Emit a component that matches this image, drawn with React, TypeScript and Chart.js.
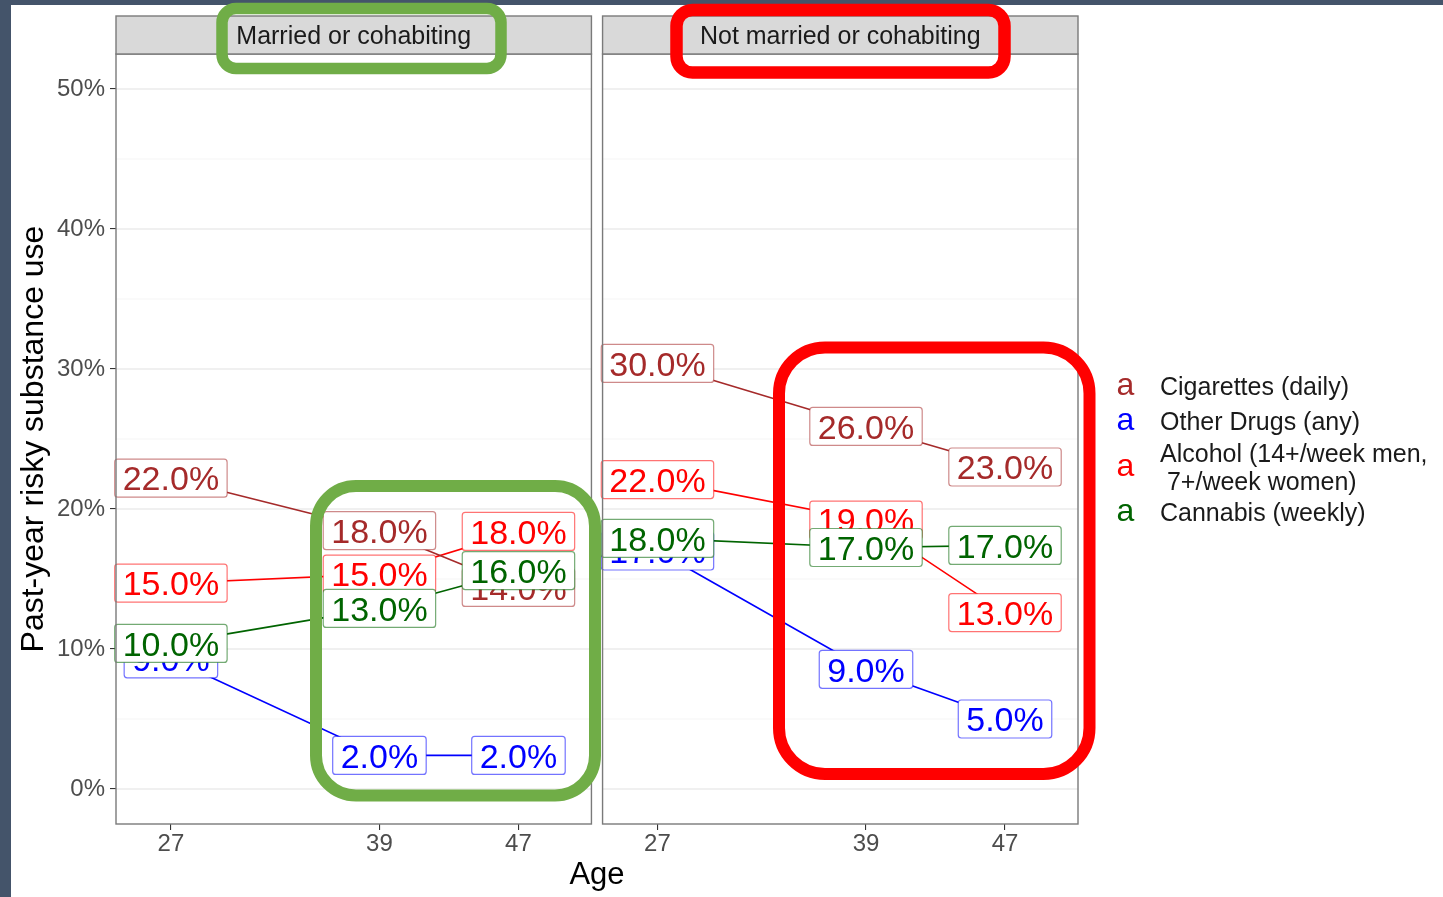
import React, { useEffect, useRef } from "react";
import { Chart, registerables } from "chart.js";

Chart.register(...registerables);

const FONT = "'Liberation Sans', Arial, Helvetica, sans-serif";

// ---- data ----
const ages = [27, 39, 47];
const panelTitles = ["Married or cohabiting", "Not married or cohabiting"];
const substanceNames = [
  "Cigarettes (daily)",
  "Other Drugs (any)",
  "Alcohol (14+/week men,\n 7+/week women)",
  "Cannabis (weekly)",
];
const substanceColors = ["#a52a2a", "#0000ff", "#ff0000", "#006400"];

const cigarettesMarried = [22.2, 18.45, 14.4];
const otherDrugsMarried = [9.3, 2.4, 2.4];
const alcoholMarried = [14.7, 15.35, 18.4];
const cannabisMarried = [10.4, 12.9, 15.6];

const cigarettesNotMarried = [30.4, 25.9, 23.0];
const otherDrugsNotMarried = [17.0, 8.55, 5.0];
const alcoholNotMarried = [22.1, 19.2, 12.6];
const cannabisNotMarried = [17.9, 17.25, 17.4];

const panelValues = [
  [cigarettesMarried, otherDrugsMarried, alcoholMarried, cannabisMarried],
  [cigarettesNotMarried, otherDrugsNotMarried, alcoholNotMarried, cannabisNotMarried],
];

const yTicks = [0, 10, 20, 30, 40, 50];
const yMinorTicks = [5, 15, 25, 35, 45];
const xTicks = ages;

// ---- facet layout (age units) ----
const PANEL_MIN = 23.84;
const PANEL_MAX = 51.2;
const FACET_SHIFT = 28;

// ---- overlay highlight boxes (page pixels) ----
const highlightBoxes = [
  { x: 222, y: 8.5, w: 279, h: 60, r: 14, color: "#70ad47", lw: 11.5 },
  { x: 316, y: 486, w: 279, h: 309.5, r: 40, color: "#70ad47", lw: 12 },
  { x: 676.5, y: 10, w: 328, h: 62.5, r: 16, color: "#ff0000", lw: 12.5 },
  { x: 779, y: 347.5, w: 310.5, h: 426.5, r: 46, color: "#ff0000", lw: 12 },
];

function hexAlpha(hex: string, a: number) {
  const n = parseInt(hex.slice(1), 16);
  return `rgba(${(n >> 16) & 255},${(n >> 8) & 255},${n & 255},${a})`;
}

function panelRects(chart: any) {
  const x = chart.scales.x;
  const area = chart.chartArea;
  return [0, 1].map((p) => ({
    left: x.getPixelForValue(PANEL_MIN + p * FACET_SHIFT),
    right: x.getPixelForValue(PANEL_MAX + p * FACET_SHIFT),
    top: area.top,
    bottom: area.bottom,
  }));
}

function fmtLabel(v: number) {
  return `${Math.round(v).toFixed(1)}%`;
}

const facetPlugin = {
  id: "facetPlugin",
  beforeDraw(chart: any) {
    const ctx = chart.ctx;
    ctx.save();
    ctx.fillStyle = "#44546a";
    ctx.fillRect(0, 0, chart.width, chart.height);
    ctx.fillStyle = "#ffffff";
    ctx.fillRect(11, 5, chart.width - 11, chart.height - 5);
    ctx.restore();
  },
  beforeDatasetsDraw(chart: any) {
    const ctx = chart.ctx;
    const y = chart.scales.y;
    ctx.save();
    for (const r of panelRects(chart)) {
      ctx.fillStyle = "#ffffff";
      ctx.fillRect(r.left, r.top, r.right - r.left, r.bottom - r.top);
      ctx.strokeStyle = "#f3f3f3";
      ctx.lineWidth = 0.8;
      for (const v of yMinorTicks) {
        const py = y.getPixelForValue(v);
        ctx.beginPath();
        ctx.moveTo(r.left, py);
        ctx.lineTo(r.right, py);
        ctx.stroke();
      }
      ctx.strokeStyle = "#ebebeb";
      ctx.lineWidth = 1.3;
      for (const v of yTicks) {
        const py = y.getPixelForValue(v);
        ctx.beginPath();
        ctx.moveTo(r.left, py);
        ctx.lineTo(r.right, py);
        ctx.stroke();
      }
    }
    ctx.restore();
  },
  afterDatasetsDraw(chart: any) {
    const ctx = chart.ctx;
    ctx.save();
    // labels
    ctx.font = `34px ${FONT}`;
    chart.data.datasets.forEach((ds: any, i: number) => {
      const meta = chart.getDatasetMeta(i);
      const color = substanceColors[ds.substance];
      meta.data.forEach((pt: any, j: number) => {
        const text = fmtLabel(ds.data[j].y);
        const w = ctx.measureText(text).width + 16;
        const h = 38;
        ctx.beginPath();
        ctx.roundRect(pt.x - w / 2, pt.y - h / 2, w, h, 3);
        ctx.fillStyle = "#ffffff";
        ctx.fill();
        ctx.strokeStyle = hexAlpha(color, 0.55);
        ctx.lineWidth = 1.2;
        ctx.stroke();
        ctx.fillStyle = color;
        ctx.textAlign = "center";
        ctx.textBaseline = "alphabetic";
        ctx.fillText(text, pt.x, pt.y + 12.2);
      });
    });
    // panel borders + strips
    panelRects(chart).forEach((r, p) => {
      ctx.strokeStyle = "#7a7a7a";
      ctx.lineWidth = 1.4;
      ctx.strokeRect(r.left, r.top, r.right - r.left, r.bottom - r.top);
      ctx.fillStyle = "#d9d9d9";
      ctx.fillRect(r.left, 16, r.right - r.left, r.top - 16);
      ctx.strokeRect(r.left, 16, r.right - r.left, r.top - 16);
      ctx.fillStyle = "#1a1a1a";
      ctx.font = `25px ${FONT}`;
      ctx.textAlign = "center";
      ctx.textBaseline = "alphabetic";
      ctx.fillText(panelTitles[p], (r.left + r.right) / 2, (16 + r.top) / 2 + 9);
      ctx.font = `34px ${FONT}`;
    });
    ctx.restore();
  },
  afterDraw(chart: any) {
    const ctx = chart.ctx;
    ctx.save();
    // legend
    const keyX = chart.chartArea.right + 47.5;
    const textX = chart.chartArea.right + 82;
    const lineH = 28;
    let top = 369;
    substanceNames.forEach((name, s) => {
      const lines = name.split("\n");
      const h = Math.max(35, lines.length * lineH);
      const cy = top + h / 2;
      ctx.fillStyle = substanceColors[s];
      ctx.font = `32px ${FONT}`;
      ctx.textAlign = "center";
      ctx.textBaseline = "alphabetic";
      ctx.fillText("a", keyX, cy + 8.5);
      ctx.fillStyle = "#1a1a1a";
      ctx.font = `25px ${FONT}`;
      ctx.textAlign = "left";
      lines.forEach((ln, k) => {
        const ly = cy + (k - (lines.length - 1) / 2) * lineH;
        ctx.fillText(ln, textX, ly + 8.8);
      });
      top += h;
    });
    // highlight boxes
    for (const b of highlightBoxes) {
      ctx.beginPath();
      ctx.roundRect(b.x, b.y, b.w, b.h, b.r);
      ctx.strokeStyle = b.color;
      ctx.lineWidth = b.lw;
      ctx.stroke();
    }
    ctx.restore();
  },
};

export default function App() {
  const ref = useRef<HTMLCanvasElement>(null);
  useEffect(() => {
    const canvas = ref.current!;
    const datasets: any[] = [];
    panelValues.forEach((series, p) =>
      series.forEach((vals, s) =>
        datasets.push({
          label: `${substanceNames[s]} - ${panelTitles[p]}`,
          data: ages.map((a, j) => ({ x: a + p * FACET_SHIFT, y: vals[j] })),
          borderColor: substanceColors[s],
          backgroundColor: substanceColors[s],
          borderWidth: 1.6,
          pointRadius: 0,
          fill: false,
          tension: 0,
          panel: p,
          substance: s,
        })
      )
    );
    const chart = new Chart(canvas, {
      type: "line",
      data: { datasets },
      options: {
        responsive: false,
        animation: false,
        devicePixelRatio: 1,
        layout: { padding: { top: 54, right: 365, bottom: 0, left: 0 } },
        plugins: { legend: { display: false }, tooltip: { enabled: false } },
        scales: {
          x: {
            type: "linear",
            min: PANEL_MIN,
            max: PANEL_MAX + FACET_SHIFT,
            afterBuildTicks: (s: any) => {
              s.ticks = [0, 1].flatMap((p) => xTicks.map((a) => ({ value: a + p * FACET_SHIFT })));
            },
            afterFit: (s: any) => {
              s.height = 73;
            },
            ticks: {
              autoSkip: false,
              maxRotation: 0,
              color: "#4d4d4d",
              font: { size: 24, family: FONT },
              padding: 0,
              callback: (v: any) => String(v > PANEL_MAX ? v - FACET_SHIFT : v),
            },
            grid: { drawOnChartArea: false, tickLength: 6, color: "#333333", lineWidth: 1.1 },
            border: { display: false },
            title: {
              display: true,
              text: "Age",
              color: "#000000",
              font: { size: 31, family: FONT },
              padding: { top: 0, bottom: 3 },
            },
          },
          y: {
            type: "linear",
            min: -2.5,
            max: 52.5,
            afterBuildTicks: (s: any) => {
              s.ticks = yTicks.map((v) => ({ value: v }));
            },
            afterFit: (s: any) => {
              s.width = 116;
            },
            ticks: {
              color: "#4d4d4d",
              font: { size: 24, family: FONT },
              padding: 5,
              callback: (v: any) => `${v}%`,
            },
            grid: { drawOnChartArea: false, tickLength: 6, color: "#333333", lineWidth: 1.1 },
            border: { display: false },
            title: {
              display: true,
              text: "Past-year risky substance use",
              color: "#000000",
              font: { size: 32, family: FONT },
              padding: { top: 15, bottom: 0 },
            },
          },
        },
      } as any,
      plugins: [facetPlugin],
    });
    return () => chart.destroy();
  }, []);
  return (
    <div style={{ position: "absolute", left: 0, top: 0, width: 1443, height: 897 }}>
      <canvas ref={ref} width={1443} height={897} style={{ display: "block", width: 1443, height: 897 }} />
    </div>
  );
}
